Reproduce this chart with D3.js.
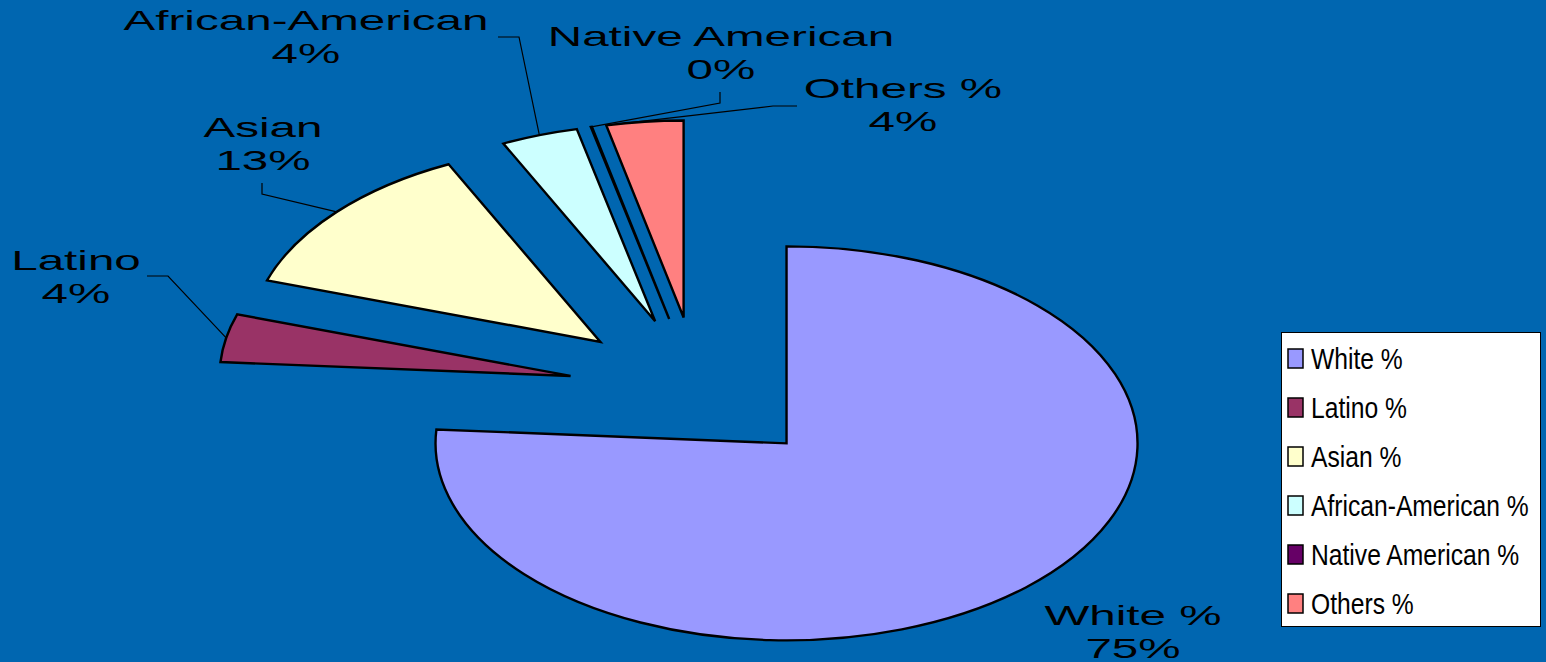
<!DOCTYPE html>
<html><head><meta charset="utf-8">
<script src="https://cdn.jsdelivr.net/npm/d3@7"></script>
<style>html,body{margin:0;padding:0;background:#0066B0;overflow:hidden}</style>
</head><body><svg id="chart" width="1546" height="662"></svg>
<script>
// ---- data ----
const categories = ["White %", "Latino %", "Asian %", "African-American %", "Native American %", "Others %"];
const labelNames = ["White %", "Latino", "Asian", "African-American", "Native American", "Others %"];
const values = [75.4, 3.9, 12.7, 3.5, 0.05, 3.5];
const colors = ["#9999FF", "#993366", "#FFFFCC", "#CCFFFF", "#660066", "#FF8080"];

// ---- layout ----
const W = 1546, H = 662;
const cx = 698, cy = 390, rx = 351, ry = 197, explode = 0.37;
const labelLayout = [
  {x: 1133, y: 625, elbow: null, t: 0.5},
  {x: 76,  y: 270, elbow: [[147, 276], [168, 276]], t: 0.5},
  {x: 263, y: 137, elbow: [[262, 183], [262, 194]], t: 0.5},
  {x: 306, y: 30,  elbow: [[498, 37], [519, 37]], t: 0.5},
  {x: 721, y: 46,  elbow: [[720, 92], [720, 103]], t: 0.5},
  {x: 903, y: 98,  elbow: [[797, 106], [773, 106]], t: 0.0}
];

const svg = d3.select("#chart");
svg.append("rect").attr("width", W).attr("height", H).attr("fill", "#0066B0");

const pie = d3.pie().sort(null).value(d => d);
const arcs = pie(values);
const arc = d3.arc().innerRadius(0).outerRadius(rx);

function apex(a) {
  const m = (a.startAngle + a.endAngle) / 2;
  return [cx + explode * rx * Math.sin(m), cy - explode * ry * Math.cos(m)];
}

// leader lines
const leaders = svg.append("g");
arcs.forEach((a, i) => {
  const L = labelLayout[i];
  if (!L.elbow) return;
  const p = apex(a);
  const ang = a.startAngle + L.t * (a.endAngle - a.startAngle);
  const s = [p[0] + rx * Math.sin(ang), p[1] - ry * Math.cos(ang)];
  const pts = [L.elbow[0], L.elbow[1], s];
  leaders.append("path")
    .attr("d", d3.line()(pts))
    .attr("fill", "none").attr("stroke", "#000").attr("stroke-width", 1.2);
});

// slices
const slices = svg.append("g");
arcs.forEach((a, i) => {
  const p = apex(a);
  slices.append("g")
    .attr("transform", `translate(${p[0]},${p[1]}) scale(1,${ry / rx})`)
    .append("path")
    .attr("d", arc(a))
    .attr("fill", colors[i])
    .attr("stroke", "#000")
    .attr("stroke-width", 2.4)
    .attr("stroke-linejoin", "miter")
    .attr("vector-effect", "non-scaling-stroke");
});

// data labels
const labels = svg.append("g")
  .attr("font-family", "'Liberation Sans', Arial, sans-serif")
  .attr("font-size", 28).attr("fill", "#000");
arcs.forEach((a, i) => {
  const L = labelLayout[i];
  const g = labels.append("g").attr("transform", `translate(${L.x},${L.y}) scale(1.7,1)`);
  g.append("text").attr("text-anchor", "middle").text(labelNames[i]);
  g.append("text").attr("text-anchor", "middle").attr("y", 33).text(Math.round(values[i]) + "%");
});

// legend
const lg = svg.append("g");
lg.append("rect").attr("x", 1281.5).attr("y", 332.5).attr("width", 259).attr("height", 294)
  .attr("fill", "#fff").attr("stroke", "#000").attr("stroke-width", 1);
categories.forEach((c, i) => {
  const y0 = 349 + 49 * i;
  lg.append("rect").attr("x", 1288).attr("y", y0).attr("width", 15).attr("height", 19)
    .attr("fill", colors[i]).attr("stroke", "#000").attr("stroke-width", 1.5);
  lg.append("g").attr("transform", `translate(1311,${y0 + 20}) scale(0.85,1)`)
    .append("text")
    .attr("font-family", "'Liberation Sans', Arial, sans-serif")
    .attr("font-size", 29).attr("fill", "#000").text(c);
});
</script>
</body></html>
